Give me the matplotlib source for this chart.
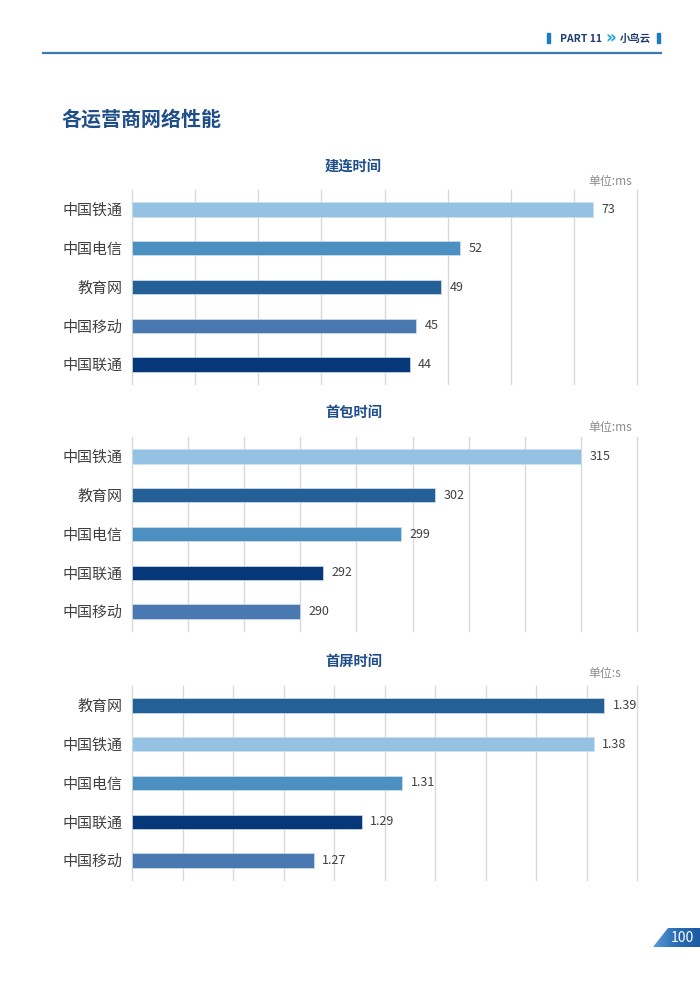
import numpy as np
import matplotlib
matplotlib.use("Agg")
import matplotlib.pyplot as plt
from matplotlib.patches import Polygon, Rectangle
from matplotlib.colors import LinearSegmentedColormap

plt.rcParams['font.family'] = ['Noto Sans CJK SC', 'DejaVu Sans']

# ---------------- data ----------------
page_title = "各运营商网络性能"

titles = ["建连时间", "首包时间", "首屏时间"]
units = ["单位:ms", "单位:ms", "单位:s"]

cats1 = ["中国铁通", "中国电信", "教育网", "中国移动", "中国联通"]
vals1 = [73, 52, 49, 45, 44]
labels1 = ["73", "52", "49", "45", "44"]

cats2 = ["中国铁通", "教育网", "中国电信", "中国联通", "中国移动"]
vals2 = [315, 302, 299, 292, 290]
labels2 = ["315", "302", "299", "292", "290"]

cats3 = ["教育网", "中国铁通", "中国电信", "中国联通", "中国移动"]
vals3 = [1.387, 1.383, 1.307, 1.291, 1.272]
labels3 = ["1.39", "1.38", "1.31", "1.29", "1.27"]

xranges = [(0, 80, 10), (275, 320, 5), (1.20, 1.40, 0.02)]

cat_colors = {
    "中国铁通": "#95C2E3",
    "中国电信": "#4C90C1",
    "教育网": "#246096",
    "中国移动": "#4A78B0",
    "中国联通": "#063879",
}

# ---------------- figure ----------------
W, H = 700, 989
fig = plt.figure(figsize=(W / 100, H / 100), dpi=100)
fig.patch.set_facecolor("white")


def fx(x):
    return x / W


def fy(y):
    return 1 - y / H


# background overlay axes in pixel coords
bg = fig.add_axes([0, 0, 1, 1])
bg.set_xlim(0, W)
bg.set_ylim(H, 0)
bg.axis("off")

# header
bg.plot([42, 662], [53, 53], color="#3A78B4", lw=1.6, solid_capstyle="butt")
bg.add_patch(Rectangle((547, 33), 3.2, 10, color="#1B7CC6"))
bg.add_patch(Rectangle((657, 33), 3.2, 10, color="#1B7CC6"))
bg.text(560, 38.5, "PART 11", fontsize=7.5, fontweight="bold", color="#1E3C6E",
        va="center", ha="left")
bg.text(605, 38.0, "»", fontsize=12, fontweight="bold", color="#1AA3D8",
        va="center", ha="left", family="DejaVu Sans")
bg.text(620, 38.5, "小鸟云", fontsize=7.5, fontweight="bold", color="#1E3C6E",
        va="center", ha="left")

# page title
bg.text(62, 119, page_title, fontsize=14.4, fontweight="bold", color="#1F4E8A",
        va="center", ha="left")

# page number tab with gradient
poly = Polygon([(653, 947), (668, 928), (700, 928), (700, 947)], closed=True,
               facecolor="none", edgecolor="none")
bg.add_patch(poly)
grad = np.linspace(0, 1, 256).reshape(1, -1)
cmap_tab = LinearSegmentedColormap.from_list("tab", ["#5B9BD8", "#2A6DB5", "#1C5AA2"])
im = bg.imshow(grad, extent=(653, 700, 947, 928), cmap=cmap_tab, aspect="auto",
               zorder=1)
im.set_clip_path(poly)
bg.text(682, 938, "100", fontsize=10, color="white", va="center", ha="center",
        zorder=2)
bg.set_xlim(0, W)
bg.set_ylim(H, 0)

# ---------------- charts ----------------
charts = [
    (cats1, vals1, labels1, 190, 167, 182),
    (cats2, vals2, labels2, 437, 413, 427),
    (cats3, vals3, labels3, 686, 662, 674),
]

ax_left, ax_right = 132, 637
ax_h = 194

for k, (cats, vals, labs, top, ty, uy) in enumerate(charts):
    ax = fig.add_axes([fx(ax_left), fy(top + ax_h), (ax_right - ax_left) / W, ax_h / H])
    lo, hi, step = xranges[k]
    ypos = np.arange(len(cats))
    cols = [cat_colors[c] for c in cats]
    ax.barh(ypos, [v - lo for v in vals], left=lo, height=0.37, color=cols,
            edgecolor="#CFE0F0", linewidth=0.5, zorder=3)
    ax.set_xlim(lo, hi)
    ax.set_ylim(len(cats) - 0.5, -0.5)
    ticks = np.arange(lo, hi + step / 2, step)
    ax.set_xticks(ticks)
    for t in ticks:
        ax.axvline(t, color="#D9D9D9", linewidth=1.0, zorder=0, clip_on=False)
    ax.tick_params(axis="x", length=0, labelbottom=False)
    ax.set_yticks(ypos)
    ax.set_yticklabels(cats, fontsize=10.8, color="#404040")
    ax.tick_params(axis="y", length=0, pad=7)
    for s in ax.spines.values():
        s.set_visible(False)
    ax.set_facecolor("none")
    for i, (v, t) in enumerate(zip(vals, labs)):
        ax.annotate(t, xy=(v, i), xytext=(6, 0), textcoords="offset points",
                    va="center", ha="left", fontsize=9.0, color="#404040")
    # chart title and unit
    bg.text(353.5, ty, titles[k], fontsize=10.3, fontweight="bold",
            color="#1F4E8A", va="center", ha="center")
    bg.text(588, uy, units[k], fontsize=8.6, color="#8C8C8C",
            va="center", ha="left")

fig.savefig("out.png", dpi=100, facecolor="white")
